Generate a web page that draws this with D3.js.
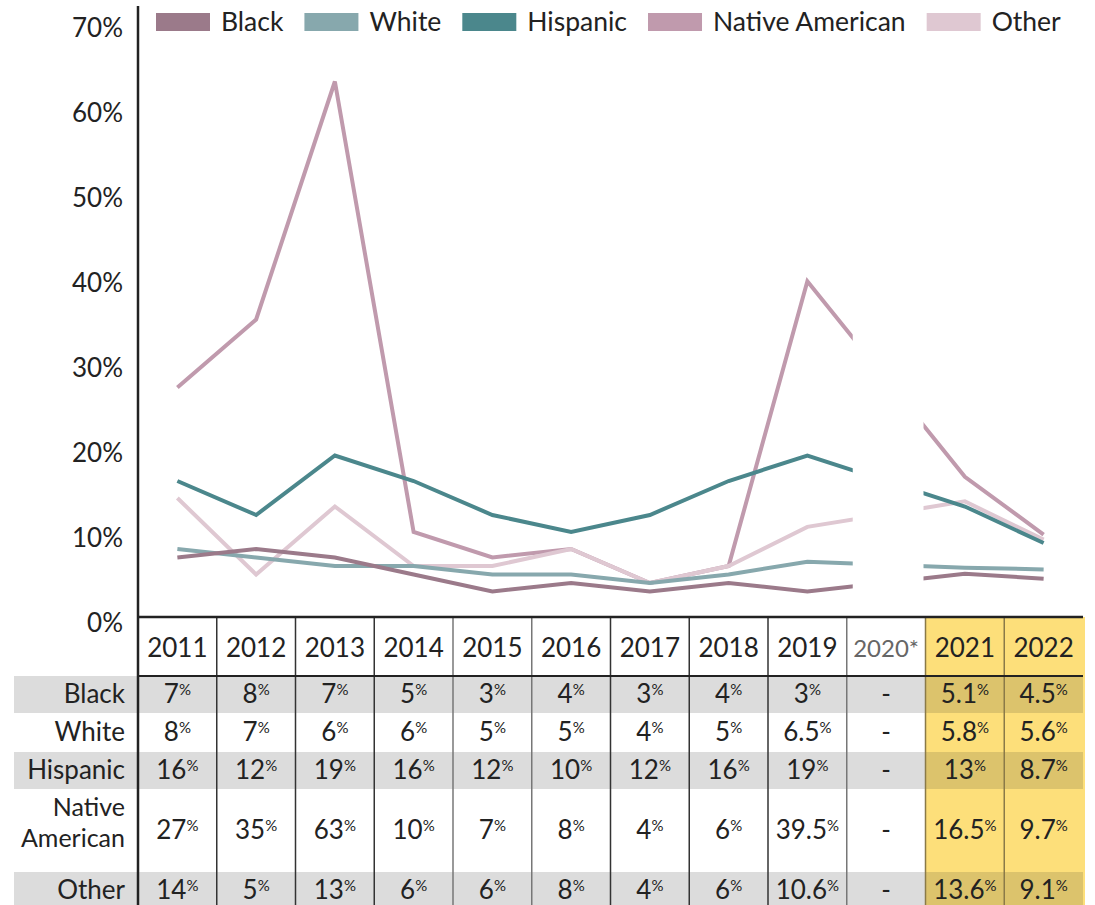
<!DOCTYPE html>
<html><head><meta charset="utf-8">
<script src="https://cdn.jsdelivr.net/npm/d3@7"></script>
<style>
body{margin:0;background:#fff}
svg{display:block;font-family:Lato,"Noto Sans",sans-serif}
</style>
</head><body>
<svg id="chart" width="1095" height="905"></svg>
<script>
// ---- data ----
const years = ["2011","2012","2013","2014","2015","2016","2017","2018","2019","2020","2021","2022"];
const yearLabels = ["2011","2012","2013","2014","2015","2016","2017","2018","2019","2020*","2021","2022"];
const seriesNames = ["Black","White","Hispanic","Native American","Other"];
const blackValues    = [7, 8, 7, 5, 3, 4, 3, 4, 3,    null, 5.1, 4.5];
const whiteValues    = [8, 7, 6, 6, 5, 5, 4, 5, 6.5,  null, 5.8, 5.6];
const hispanicValues = [16,12,19,16,12,10,12,16,19,   null, 13,  8.7];
const nativeValues   = [27,35,63,10,7, 8, 4, 6, 39.5, null, 16.5,9.7];
const otherValues    = [14,5, 13,6, 6, 8, 4, 6, 10.6, null, 13.6,9.1];
const seriesColors = ["#9b7a8a","#87a8ad","#4b878c","#c09aad","#dfc8d2"];
const yTicks = [0,10,20,30,40,50,60,70];
const highlightYears = ["2021","2022"];
const missingYear = "2020";

const seriesValues = [blackValues, whiteValues, hispanicValues, nativeValues, otherValues];
const series = seriesNames.map((n,i)=>({name:n, color:seriesColors[i], values:seriesValues[i]}));

// ---- layout ----
const svg = d3.select("#chart");
const left = 138, right = 1083, plotBottom = 617, plotTop = 22;
const FS = 26;
const x = d3.scaleBand().domain(years).range([left, right]).padding(0);
const bw = x.bandwidth();
const cx = d => x(d) + bw/2;
const y = d3.scaleLinear().domain([0,70]).range([plotBottom, plotTop]);

// table rows layout
const headerBottom = 676;
const rowHeights = [37, 39, 37, 83, 37];
const rowShade = [true,false,true,false,true];
let acc = headerBottom;
const rows = seriesNames.map((n,i)=>{const r={name:n, top:acc, h:rowHeights[i], shade:rowShade[i], values:seriesValues[i]}; acc+=rowHeights[i]; return r;});
const tableBottom = 905;

// yellow highlight
const hx0 = x(highlightYears[0]), hx1 = x(highlightYears[highlightYears.length-1]) + bw;
svg.append("rect").attr("x",hx0).attr("y",plotBottom).attr("width",hx1-hx0+2).attr("height",tableBottom-plotBottom).attr("fill","#fddf7a");

// grey bands
rows.filter(r=>r.shade).forEach(r=>{
  svg.append("rect").attr("x",14).attr("y",r.top).attr("width",hx0-14).attr("height",r.h).attr("fill","#dcdcdc");
  svg.append("rect").attr("x",hx0).attr("y",r.top).attr("width",hx1-hx0).attr("height",r.h).attr("fill","#dcc36c");
});

// vertical column lines in table
years.slice(1).forEach(yr=>{
  const xx = x(yr);
  const inHi = xx >= hx0 - 1;
  svg.append("line").attr("x1",xx).attr("x2",xx).attr("y1",plotBottom).attr("y2",tableBottom)
    .attr("stroke", inHi ? "#8a7a48" : (yr==="2020"||yr==="2016"||yr==="2015" ? "#777" : "#333")).attr("stroke-width",1.5);
});

// lines
const line = d3.line().x(d=>cx(d.year)).y(d=>y(d.v)).curve(d3.curveLinear);
const drawOrder = [3,4,2,1,0];
drawOrder.forEach(i=>{
  const s = series[i];
  const pts = years.map((yr,j)=>({year:yr, v:s.values[j]})).filter(d=>d.v!==null);
  svg.append("path").datum(pts).attr("d",line).attr("fill","none")
    .attr("stroke",s.color).attr("stroke-width",4).attr("stroke-linejoin","miter");
});

// 2020 mask (no data)
svg.append("rect").attr("x",x(missingYear)+6).attr("y",40).attr("width",bw-8).attr("height",plotBottom-3-40).attr("fill","#fff");

// axes lines
svg.append("line").attr("x1",left).attr("x2",left).attr("y1",6).attr("y2",tableBottom).attr("stroke","#222").attr("stroke-width",2.5);
svg.append("line").attr("x1",left).attr("x2",right).attr("y1",plotBottom).attr("y2",plotBottom).attr("stroke","#222").attr("stroke-width",2.5);
svg.append("line").attr("x1",left).attr("x2",right).attr("y1",headerBottom).attr("y2",headerBottom).attr("stroke","#222").attr("stroke-width",2);

// y tick labels
svg.selectAll("text.ytick").data(yTicks).enter().append("text").attr("class","ytick")
  .attr("x",123).attr("y",d=>y(d)+15).attr("text-anchor","end").attr("font-size",FS).attr("fill","#222")
  .text(d=>d+"%");

// header labels
svg.selectAll("text.year").data(years).enter().append("text").attr("class","year")
  .attr("x",d=>cx(d)).attr("y",657).attr("text-anchor","middle")
  .attr("font-size",d=>d===missingYear?24:FS)
  .attr("fill",d=>d===missingYear?"#666":"#222")
  .text((d,i)=>yearLabels[i]);

// row labels
rows.forEach(r=>{
  const mid = r.top + r.h/2;
  const words = r.name.split(" ");
  if(words.length>1){
    svg.append("text").attr("x",125).attr("y",mid-15).attr("text-anchor","end").attr("font-size",25).attr("fill","#222").text(words[0]);
    svg.append("text").attr("x",125).attr("y",mid+16).attr("text-anchor","end").attr("font-size",25).attr("fill","#222").text(words.slice(1).join(" "));
  } else {
    svg.append("text").attr("x",125).attr("y",mid+8.5).attr("text-anchor","end").attr("font-size",FS).attr("fill","#222").text(r.name);
  }
  years.forEach((yr,j)=>{
    const v = r.values[j];
    const t = svg.append("text").attr("x",cx(yr)).attr("y",mid+8.5).attr("text-anchor","middle").attr("font-size",FS).attr("fill","#222");
    if(v===null){ t.text("-"); }
    else {
      t.append("tspan").text(String(v));
      t.append("tspan").attr("font-size",15).attr("dy",-8).text("%");
    }
  });
});

// legend
let lx = 156;
series.forEach(s=>{
  svg.append("rect").attr("x",lx).attr("y",13).attr("width",54).attr("height",18).attr("fill",s.color);
  const t = svg.append("text").attr("x",lx+65).attr("y",31).attr("font-size",26.5).attr("fill","#222").text(s.name);
  lx = lx + 65 + t.node().getComputedTextLength() + 21;
});
</script>
</body></html>
